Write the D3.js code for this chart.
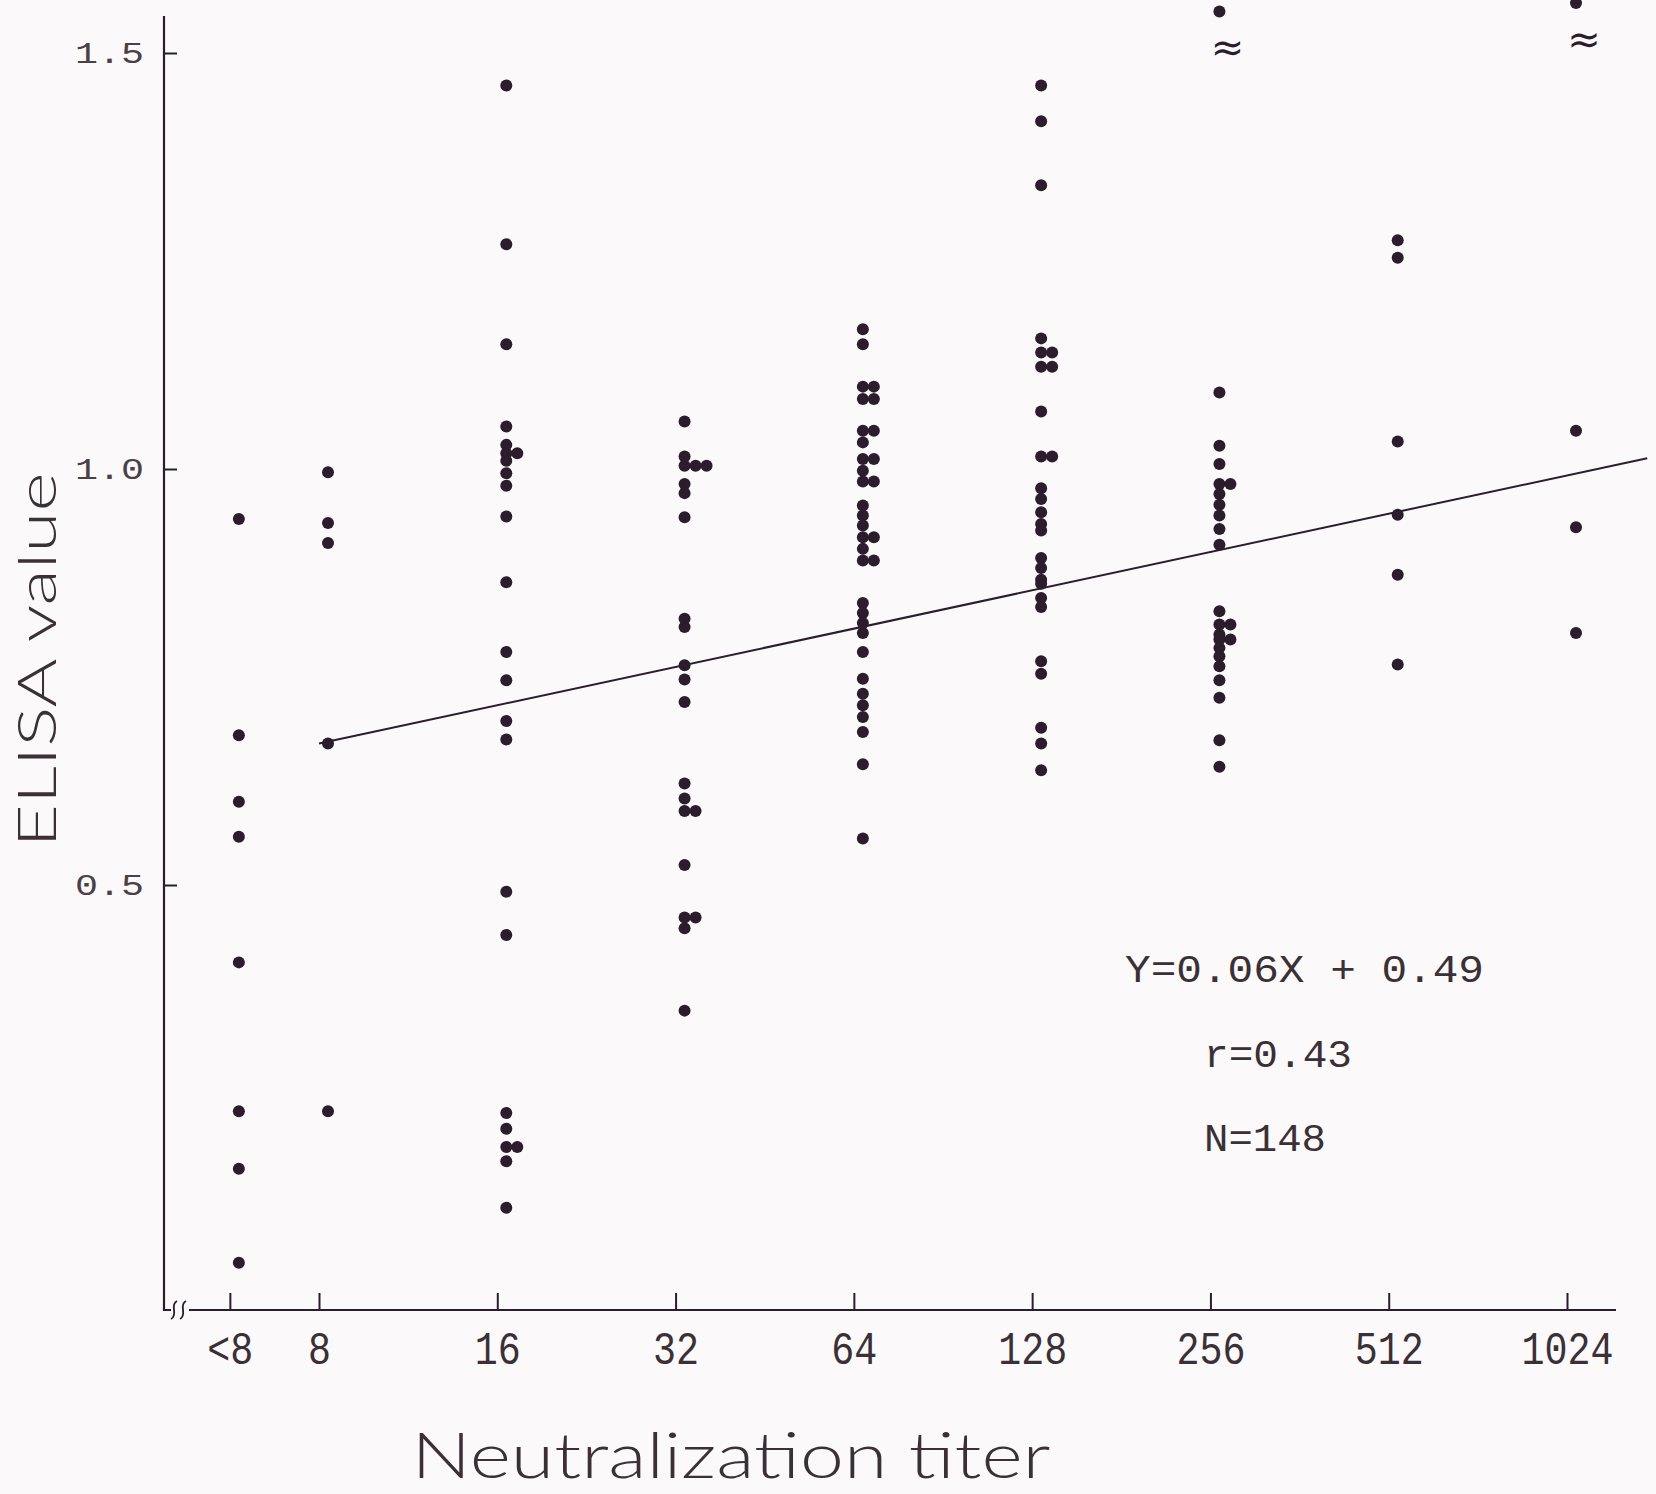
<!DOCTYPE html>
<html>
<head>
<meta charset="utf-8">
<script src="https://cdn.jsdelivr.net/npm/d3@7"></script>
<style>
body { margin: 0; background: #fbf9fa; }
svg { display: block; }
</style>
</head>
<body>
<svg width="1656" height="1494"></svg>
<script>
// **** data ****
var titers = ['<8', '8', '16', '32', '64', '128', '256', '512', '1024']
var titerPos = [2.5, 3, 4, 5, 6, 7, 8, 9, 10]   // log2 of titer, "<8" half a step left

var elisaLt8 = [0.94, 0.68, 0.60, 0.558, 0.407, 0.228, 0.159, 0.046]
var elisa8 = [0.996, 0.935, 0.911, 0.67, 0.228]
var elisa16 = [1.461, 1.27, 1.15, 1.051, 1.029, 1.019, 1.019, 1.01, 0.995, 0.98, 0.943, 0.864,
    0.78, 0.746, 0.697, 0.675, 0.492, 0.44, 0.226, 0.207, 0.185, 0.185, 0.168, 0.112]
var elisa32 = [1.057, 1.015, 1.004, 1.004, 1.004, 0.982, 0.971, 0.942, 0.82, 0.81, 0.764, 0.747,
    0.72, 0.622, 0.604, 0.589, 0.589, 0.524, 0.461, 0.461, 0.448, 0.349]
var elisa64 = [1.168, 1.15, 1.099, 1.099, 1.084, 1.084, 1.046, 1.046, 1.032, 1.012, 1.012, 0.998,
    0.985, 0.985, 0.956, 0.944, 0.932, 0.918, 0.918, 0.904, 0.89, 0.89, 0.839, 0.827, 0.815,
    0.803, 0.78, 0.748, 0.73, 0.716, 0.702, 0.684, 0.645, 0.556]
var elisa128 = [1.461, 1.418, 1.341, 1.157, 1.14, 1.14, 1.123, 1.123, 1.069, 1.015, 1.015, 0.977,
    0.964, 0.948, 0.934, 0.926, 0.893, 0.881, 0.867, 0.862, 0.845, 0.834, 0.769, 0.754, 0.689,
    0.67, 0.638]
var elisa256 = [1.55, 1.092, 1.028, 1.006, 0.982, 0.982, 0.97, 0.957, 0.944, 0.928, 0.909, 0.829,
    0.813, 0.813, 0.801, 0.795, 0.795, 0.785, 0.775, 0.763, 0.746, 0.725, 0.674, 0.642]
var elisa512 = [1.275, 1.254, 1.033, 0.945, 0.873, 0.765]
var elisa1024 = [1.56, 1.046, 0.93, 0.803]

var columns = [elisaLt8, elisa8, elisa16, elisa32, elisa64, elisa128, elisa256, elisa512, elisa1024]

var yTicks = [0.5, 1.0, 1.5]
var regLine = [[3, 0.67], [10.45, 1.013]]
var fitLabels = ['Y=0.06X + 0.49', 'r=0.43', 'N=148']
var offScale = ['256', '1024']   // columns with a value beyond the axis (marked with ≈)

// **** scales ****
var xScale = d3.scaleLinear().domain([3, 10]).range([319, 1567])
var yScale = d3.scaleLinear().domain([0, 1.5]).range([1301, 53])

var ink = '#2b1d2c'
var dotShift = 9
var svg = d3.select('svg')

// **** axes ****
var axisY = 1310
var axisX = 164

svg.append('g').attr('class', 'y axis')
    .attr('transform', 'translate(' + axisX + ',0)')
    .call(d3.axisLeft(yScale).tickValues(yTicks).tickSize(-13).tickPadding(20)
        .tickFormat(d3.format('.1f')))
    .call(function(g) {
        g.select('.domain').remove()
        g.selectAll('line').attr('stroke', ink).attr('stroke-width', 2)
        g.selectAll('text')
            .attr('fill', '#4a4046')
            .style('font-family', 'Liberation Mono, monospace')
            .style('font-size', '30px')
            .attr('textLength', 69)
            .attr('lengthAdjust', 'spacingAndGlyphs')
    })

svg.append('g').attr('class', 'x axis')
    .attr('transform', 'translate(0,' + axisY + ')')
    .call(d3.axisBottom(xScale).tickValues(titerPos).tickSize(-17)
        .tickFormat(function(d, i) { return titers[i] }))
    .call(function(g) {
        g.select('.domain').remove()
        g.selectAll('line').attr('stroke', ink).attr('stroke-width', 2)
        g.selectAll('text')
            .attr('y', 54).attr('dy', 0)
            .attr('fill', '#3a3036')
            .style('font-family', 'Liberation Mono, monospace')
            .style('font-size', '46px')
            .attr('textLength', function(d, i) { return titers[i].length * 23 })
            .attr('lengthAdjust', 'spacingAndGlyphs')
    })

// axis lines with the break on the x axis
svg.append('path')
    .attr('d', 'M' + axisX + ',16 V' + axisY + ' H171')
    .attr('fill', 'none').attr('stroke', ink).attr('stroke-width', 2.2)
svg.append('path')
    .attr('d', 'M189,' + axisY + ' H1616')
    .attr('fill', 'none').attr('stroke', ink).attr('stroke-width', 2.2)
;[174, 183].forEach(function(bx) {
    svg.append('path')
        .attr('d', 'M' + (bx - 3) + ',' + (axisY + 9) + ' q4,-2 3,-9 q-1,-7 3,-9')
        .attr('fill', 'none').attr('stroke', ink).attr('stroke-width', 1.8)
})

// **** regression line ****
svg.append('path')
    .datum(regLine)
    .attr('d', d3.line()
        .x(function(d) { return xScale(d[0]) })
        .y(function(d) { return yScale(d[1]) }))
    .attr('fill', 'none').attr('stroke', ink).attr('stroke-width', 2)

// **** points ****
var points = []
columns.forEach(function(vals, i) {
    var seen = new Map()
    vals.forEach(function(v) {
        var key = v.toFixed(3)
        var k = seen.has(key) ? seen.get(key) : 0
        seen.set(key, k + 1)
        points.push({ cat: titers[i], pos: titerPos[i], value: v, dup: k })
    })
})

svg.append('g')
    .selectAll('circle')
    .data(points)
    .enter()
    .append('circle')
    .attr('cx', function(d) { return xScale(d.pos) + dotShift + d.dup * 11 })
    .attr('cy', function(d) { return yScale(d.value) })
    .attr('r', 6)
    .attr('fill', ink)

// ≈ under the off-scale values
offScale.forEach(function(c) {
    var i = titers.indexOf(c)
    var top = d3.max(columns[i])
    svg.append('text')
        .attr('x', xScale(titerPos[i]) + dotShift + 8)
        .attr('y', yScale(top) + 36)
        .attr('text-anchor', 'middle')
        .attr('dominant-baseline', 'central')
        .attr('fill', ink)
        .style('font-family', 'DejaVu Sans, sans-serif')
        .style('font-size', '40px')
        .text('≈')
})

// **** fit annotation ****
var fitX = [1125, 1204, 1204]
var fitY = [982, 1067, 1151]
var fitW = [359, 148, 122]
fitLabels.forEach(function(t, i) {
    svg.append('text')
        .attr('x', fitX[i]).attr('y', fitY[i])
        .attr('fill', '#3a3036')
        .style('font-family', 'Liberation Mono, monospace')
        .style('font-size', '38px')
        .attr('textLength', fitW[i])
        .attr('lengthAdjust', 'spacingAndGlyphs')
        .text(t)
})

// **** axis titles ****
svg.append('text')
    .attr('transform', 'translate(56,660) rotate(-90)')
    .attr('text-anchor', 'middle')
    .attr('fill', '#3a3036')
    .style('font-family', 'Lato, sans-serif')
    .style('font-weight', 300)
    .style('font-size', '54px')
    .attr('textLength', 375)
    .attr('lengthAdjust', 'spacingAndGlyphs')
    .text('ELISA value')

svg.append('text')
    .attr('x', 731).attr('y', 1478)
    .attr('text-anchor', 'middle')
    .attr('fill', '#3a3036')
    .style('font-family', 'Lato, sans-serif')
    .style('font-weight', 300)
    .style('font-size', '64px')
    .attr('textLength', 639)
    .attr('lengthAdjust', 'spacingAndGlyphs')
    .text('Neutralization titer')
</script>
</body>
</html>
